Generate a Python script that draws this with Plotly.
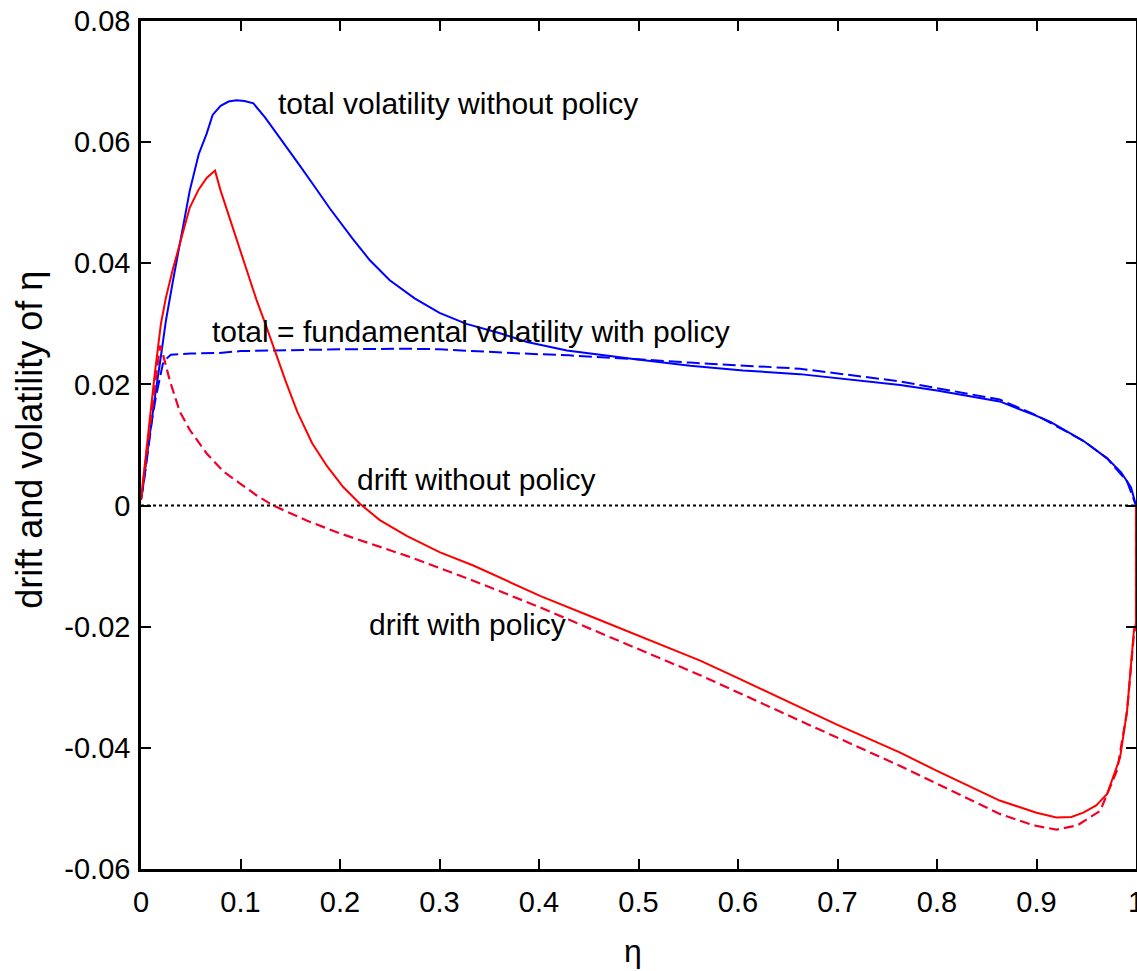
import plotly.graph_objects as go

# ---- data ----
vol_nopol_x = [0.0, 0.002, 0.005, 0.009, 0.014, 0.019, 0.025, 0.032, 0.040, 0.049, 0.058, 0.066,
               0.072, 0.080, 0.088, 0.096, 0.104, 0.113, 0.125, 0.143, 0.158, 0.173, 0.190, 0.213,
               0.230, 0.250, 0.275, 0.300, 0.327, 0.360, 0.388, 0.428, 0.460, 0.495, 0.552, 0.605,
               0.662, 0.700, 0.763, 0.800, 0.863, 0.900, 0.914, 0.947, 0.971, 0.985, 0.995, 1.0]
vol_nopol_y = [0.001, 0.003, 0.007, 0.012, 0.018, 0.0235, 0.0305, 0.037, 0.044, 0.052, 0.058, 0.0614,
               0.0645, 0.0660, 0.0667, 0.0669, 0.0668, 0.0664, 0.0640, 0.0600, 0.0565, 0.0530, 0.0490, 0.0440,
               0.0405, 0.0372, 0.0342, 0.0318, 0.0300, 0.0285, 0.0270, 0.0256, 0.0249, 0.0242, 0.0231, 0.0223,
               0.0217, 0.0210, 0.0199, 0.0190, 0.0172, 0.0148, 0.0138, 0.0107, 0.0078, 0.0055, 0.0030, 0.0]

vol_pol_x = [0.0, 0.003, 0.007, 0.011, 0.015, 0.019, 0.022, 0.026, 0.030, 0.050, 0.079, 0.100, 0.150,
             0.200, 0.267, 0.300, 0.384, 0.430, 0.495, 0.552, 0.662, 0.763, 0.863, 0.900, 0.947, 0.971,
             0.991, 1.0]
vol_pol_y = [0.001, 0.004, 0.009, 0.014, 0.018, 0.021, 0.0234, 0.0243, 0.0249, 0.0251, 0.0252, 0.0255, 0.0257,
             0.0258, 0.0259, 0.0258, 0.0251, 0.0248, 0.0242, 0.0236, 0.0226, 0.0205, 0.0175, 0.0149, 0.0107, 0.0078,
             0.0040, 0.0]

drift_nopol_x = [0.0, 0.002, 0.005, 0.009, 0.014, 0.020, 0.025, 0.032, 0.040, 0.049, 0.058, 0.066,
                 0.0744, 0.080, 0.090, 0.099, 0.108, 0.116, 0.125, 0.133, 0.145, 0.157, 0.172, 0.187,
                 0.203, 0.220, 0.240, 0.267, 0.300, 0.334, 0.361, 0.401, 0.461, 0.500, 0.562, 0.600,
                 0.662, 0.700, 0.763, 0.800, 0.863, 0.900, 0.920, 0.935, 0.947, 0.960, 0.971, 0.984,
                 0.991, 0.996, 0.998, 1.0, 1.0]
drift_nopol_y = [0.001, 0.004, 0.009, 0.015, 0.022, 0.0300, 0.0343, 0.0390, 0.0440, 0.0492, 0.0522, 0.0541,
                 0.0553, 0.0520, 0.0470, 0.0426, 0.0380, 0.0340, 0.0300, 0.0262, 0.0207, 0.0155, 0.0103, 0.0065,
                 0.0031, 0.0003, -0.0024, -0.0050, -0.0077, -0.0099, -0.0119, -0.0149, -0.0189, -0.0215, -0.0256, -0.0285,
                 -0.0333, -0.0362, -0.0408, -0.0438, -0.0487, -0.0507, -0.0515, -0.0514, -0.0507, -0.0495, -0.0476, -0.0416,
                 -0.0339, -0.0240, -0.0205, -0.0195, 0.0]

drift_pol_x = [0.0, 0.003, 0.006, 0.010, 0.015, 0.019, 0.022, 0.029, 0.039, 0.049, 0.066, 0.083, 0.100,
               0.116, 0.133, 0.167, 0.200, 0.267, 0.334, 0.401, 0.461, 0.562, 0.662, 0.763, 0.863, 0.897,
               0.920, 0.941, 0.964, 0.981, 0.991, 0.996, 0.998, 1.0, 1.0]
drift_pol_y = [0.001, 0.005, 0.009, 0.014, 0.021, 0.0264, 0.0250, 0.0206, 0.0155, 0.0125, 0.0086, 0.0056, 0.0036,
               0.0017, 0.0000, -0.0025, -0.0046, -0.0083, -0.0124, -0.0168, -0.0210, -0.0280, -0.0355, -0.0430, -0.0509, -0.0528,
               -0.0535, -0.0528, -0.0504, -0.0437, -0.0340, -0.0240, -0.0210, -0.0200, 0.0]

zero_x = [0.0, 1.0]
zero_y = [0.0, 0.0]

x_ticks = [0, 0.1, 0.2, 0.3, 0.4, 0.5, 0.6, 0.7, 0.8, 0.9, 1.0]
x_ticktext = ["0", "0.1", "0.2", "0.3", "0.4", "0.5", "0.6", "0.7", "0.8", "0.9", "1"]
y_ticks = [-0.06, -0.04, -0.02, 0, 0.02, 0.04, 0.06, 0.08]
y_ticktext = ["-0.06", "-0.04", "-0.02", "0", "0.02", "0.04", "0.06", "0.08"]

labels = [
    ("total volatility without policy", 0.1357, 0.0664),
    ("total = fundamental volatility with policy", 0.0693, 0.0287),
    ("drift without policy", 0.215, 0.0043),
    ("drift with policy", 0.227, -0.0196),
]

FONT = "Liberation Sans, Arial, sans-serif"

fig = go.Figure()
fig.add_trace(go.Scatter(x=zero_x, y=zero_y, mode="lines",
                         line=dict(color="black", width=2, dash="3px,3px"), showlegend=False))
fig.add_trace(go.Scatter(x=vol_pol_x, y=vol_pol_y, mode="lines",
                         line=dict(color="#0000FF", width=2, dash="13px,5px"), showlegend=False))
fig.add_trace(go.Scatter(x=vol_nopol_x, y=vol_nopol_y, mode="lines",
                         line=dict(color="#0000FF", width=2), showlegend=False))
fig.add_trace(go.Scatter(x=drift_pol_x, y=drift_pol_y, mode="lines",
                         line=dict(color="#F0002A", width=2.2, dash="10px,5px"), showlegend=False))
fig.add_trace(go.Scatter(x=drift_nopol_x, y=drift_nopol_y, mode="lines",
                         line=dict(color="#FF0000", width=2), showlegend=False))

for text, x, y in labels:
    fig.add_annotation(x=x, y=y, xref="x", yref="y", text=text, showarrow=False,
                       xanchor="left", yanchor="middle",
                       font=dict(family=FONT, size=30, color="black"))

# axis titles
fig.add_annotation(x=-0.1116, y=0.506, xref="paper", yref="paper", text="drift and volatility of η",
                   textangle=-90, showarrow=False, xanchor="center", yanchor="middle",
                   font=dict(family=FONT, size=36, color="black"))
fig.add_annotation(x=0.4945, y=-0.097, xref="paper", yref="paper", text="η",
                   showarrow=False, xanchor="center", yanchor="middle",
                   font=dict(family=FONT, size=32, color="black"))

axis_common = dict(showgrid=False, zeroline=False, showline=True, linecolor="black", linewidth=2.5,
                   mirror="ticks", ticks="inside", ticklen=10, tickwidth=2, tickcolor="black",
                   automargin=False, tickfont=dict(family=FONT, size=29, color="black"))

fig.update_xaxes(range=[0, 1], tickvals=x_ticks, ticktext=x_ticktext, ticklabelstandoff=5,
                 ticklabeloverflow="allow", **axis_common)
fig.update_yaxes(range=[-0.06, 0.08], tickvals=y_ticks, ticktext=y_ticktext, ticklabelstandoff=2, **axis_common)

fig.update_layout(width=1137, height=971, margin=dict(l=141, r=1, t=21, b=102),
                  plot_bgcolor="white", paper_bgcolor="white", showlegend=False)

fig.write_html("out.html", config={"displayModeBar": False},
               post_script="document.body.style.margin='0';document.body.style.overflow='hidden';")
